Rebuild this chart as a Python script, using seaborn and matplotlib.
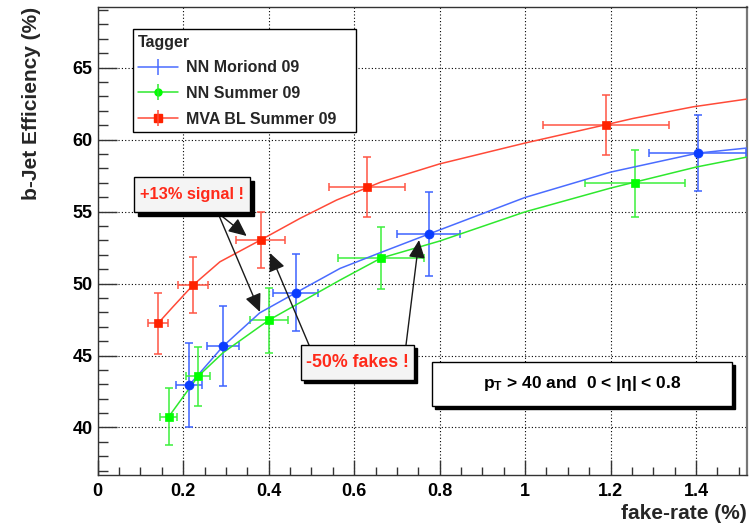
import numpy as np
import pandas as pd
import matplotlib
matplotlib.use("Agg")
import matplotlib.pyplot as plt
import seaborn as sns
from matplotlib.lines import Line2D
from matplotlib.patches import Rectangle
from matplotlib.legend_handler import HandlerTuple
from matplotlib.ticker import MultipleLocator

# ---------------- data ----------------
taggers = ["NN Moriond 09", "NN Summer 09", "MVA BL Summer 09"]

moriond_x = [0.214, 0.2935, 0.463, 0.774, 1.404]
moriond_y = [42.94, 45.65, 49.35, 53.43, 59.06]
moriond_xerr = [0.030, 0.037, 0.052, 0.073, 0.113]
moriond_yerr = [2.90, 2.78, 2.67, 2.90, 2.66]

summer_x = [0.166, 0.235, 0.4005, 0.663, 1.257]
summer_y = [40.74, 43.56, 47.46, 51.77, 56.98]
summer_xerr = [0.020, 0.028, 0.044, 0.100, 0.117]
summer_yerr = [1.98, 2.06, 2.26, 2.15, 2.33]

mva_x = [0.141, 0.223, 0.381, 0.630, 1.190]
mva_y = [47.23, 49.89, 53.02, 56.70, 61.04]
mva_xerr = [0.024, 0.035, 0.057, 0.088, 0.147]
mva_yerr = [2.10, 1.95, 1.97, 2.10, 2.08]

# fitted curves
moriond_fit_x = [0.214, 0.2935, 0.379, 0.463, 0.567, 0.660, 0.774, 1.0, 1.2, 1.404, 1.518]
moriond_fit_y = [42.94, 45.65, 47.96, 49.35, 51.05, 52.13, 53.43, 55.98, 57.74, 59.06, 59.41]

summer_fit_x = [0.166, 0.235, 0.2935, 0.4005, 0.567, 0.663, 0.8, 1.0, 1.2, 1.4, 1.518]
summer_fit_y = [40.74, 43.56, 45.20, 47.46, 50.24, 51.77, 52.95, 54.98, 56.63, 58.09, 58.78]

mva_fit_x = [0.141, 0.176, 0.223, 0.286, 0.381, 0.473, 0.559, 0.663, 0.8, 1.0, 1.19, 1.253, 1.394, 1.518]
mva_fit_y = [47.23, 48.38, 49.89, 51.51, 53.02, 54.52, 55.80, 57.05, 58.31, 59.76, 61.04, 61.47, 62.28, 62.81]

x_ticks = [0, 0.2, 0.4, 0.6, 0.8, 1.0, 1.2, 1.4]
x_tick_labels = ["0", "0.2", "0.4", "0.6", "0.8", "1", "1.2", "1.4"]
y_ticks = [40, 45, 50, 55, 60, 65]
y_tick_labels = ["40", "45", "50", "55", "60", "65"]

x_label = "fake-rate (%)"
y_label = "b-Jet Efficiency (%)"
legend_title = "Tagger"
note_signal = "+13% signal !"
note_fakes = "-50% fakes !"
note_cut = "p$_{T}$ > 40 and  0 < |η| < 0.8"

# ---------------- style ----------------
sns.set_theme(style="white")
plt.rcParams["font.family"] = ["Liberation Sans", "DejaVu Sans"]
plt.rcParams["mathtext.fontset"] = "custom"
plt.rcParams["mathtext.rm"] = "Liberation Sans"
plt.rcParams["mathtext.bf"] = "Liberation Sans:bold"
plt.rcParams["mathtext.default"] = "bf"

W, H = 756, 525
fig = plt.figure(figsize=(W / 100, H / 100), dpi=100)
fig.patch.set_facecolor("white")
ax_l, ax_r, ax_t, ax_b = 97.7, 746.7, 6.7, 475.0
ax = fig.add_axes([ax_l / W, 1 - ax_b / H, (ax_r - ax_l) / W, (ax_b - ax_t) / H])
ax.set_facecolor("white")


def fx(px):
    return px / W


def fy(py):
    return 1 - py / H


blue_m, blue_l, blue_e = "#0a3cff", "#4a6cff", "#3d63ff"
green_m, green_l, green_e = "#00ff00", "#2ee82e", "#3cf03c"
red_m, red_l, red_e = "#ff2200", "#ff4a38", "#ff5544"

series = [
    (moriond_x, moriond_y, moriond_xerr, moriond_yerr, moriond_fit_x, moriond_fit_y,
     blue_m, blue_l, blue_e, "o", 6.5),
    (summer_x, summer_y, summer_xerr, summer_yerr, summer_fit_x, summer_fit_y,
     green_m, green_l, green_e, "s", 6.0),
    (mva_x, mva_y, mva_xerr, mva_yerr, mva_fit_x, mva_fit_y,
     red_m, red_l, red_e, "s", 6.0),
]

for (sx, sy, sxe, sye, fxs, fys, cm, cl, ce, mk, ms) in series:
    ax.errorbar(sx, sy, xerr=sxe, yerr=sye, fmt="none", ecolor=ce,
                elinewidth=1.1, capsize=3, capthick=1.1, zorder=3)
    sns.lineplot(x=fxs, y=fys, ax=ax, color=cl, lw=1.1, sort=False,
                 estimator=None, zorder=4)
    sns.scatterplot(x=sx, y=sy, ax=ax, marker=mk, s=ms ** 2,
                    color=cm, edgecolor=cm, linewidth=0.5, zorder=5)

ax.set_xlim(0, 1.5185)
ax.set_ylim(36.7, 69.23)
ax.set_xticks(x_ticks, x_tick_labels)
ax.set_yticks(y_ticks, y_tick_labels)
ax.xaxis.set_minor_locator(MultipleLocator(0.05))
ax.yaxis.set_minor_locator(MultipleLocator(1))
ax.grid(True, which="major", color="black", linestyle=(0, (1, 2)), lw=0.8)
ax.set_axisbelow(True)

ax.tick_params(axis="both", which="both", direction="in", bottom=True, left=True,
               top=False, right=False, color="#333333", width=1)
ax.tick_params(axis="y", which="major", length=13.5, pad=3.5)
ax.tick_params(axis="y", which="minor", length=7.5)
ax.tick_params(axis="x", which="major", length=11, pad=6)
ax.tick_params(axis="x", which="minor", length=5.5)
for lab in ax.get_xticklabels() + ax.get_yticklabels():
    lab.set_fontweight("bold")
    lab.set_fontsize(13)
    lab.set_color("black")

for side in ["left", "bottom", "top"]:
    ax.spines[side].set_color("#333333")
    ax.spines[side].set_linewidth(1)
ax.spines["right"].set_color("#777777")
ax.spines["right"].set_linewidth(1.6)

ax.set_xlabel(x_label, fontsize=15, fontweight="bold", loc="right")
ax.xaxis.set_label_coords(1.0, -(504 - ax_b) / (ax_b - ax_t))
ax.set_ylabel(y_label, fontsize=15, fontweight="bold", loc="top")
ax.yaxis.set_label_coords((41 - ax_l) / (ax_r - ax_l), 1.0)

# ---------------- legend ----------------
handles = []
for cl, cm, mk, ms in [(blue_l, blue_m, "None", 0), (green_l, green_m, "o", 5),
                       (red_l, red_m, "s", 6)]:
    ln = Line2D([], [], color=cl, lw=1.1, marker=mk, ms=ms, mfc=cm, mec=cm)
    bar = Line2D([], [], color=cl, lw=0, marker="|", ms=12, mew=1.1, mec=cl)
    handles.append((ln, bar))

leg_l = (132.7 - ax_l) / (ax_r - ax_l)
leg_r = (356.0 - ax_l) / (ax_r - ax_l)
leg_t = 1 - (29.3 - ax_t) / (ax_b - ax_t)
leg = ax.legend(handles, taggers, handler_map={tuple: HandlerTuple(ndivide=1)},
                loc="upper left", bbox_to_anchor=(leg_l, leg_t, leg_r - leg_l, 0),
                mode="expand", borderaxespad=0, fancybox=False, framealpha=1,
                edgecolor="black", title=legend_title, alignment="left",
                prop={"weight": "bold", "size": 11.5},
                title_fontproperties={"weight": "bold", "size": 11.5},
                handlelength=2.5, handletextpad=0.5, labelspacing=0.66,
                borderpad=0.35)
leg.get_frame().set_linewidth(1)
leg.set_zorder(10)


# ---------------- annotation boxes ----------------
def pave(x0, y0, x1, y1, face, text, color, size, shadow=3):
    fig.add_artist(Rectangle((fx(x0 + shadow), fy(y1 + shadow)), (x1 - x0) / W,
                             (y1 - y0) / H, transform=fig.transFigure,
                             facecolor="black", edgecolor="black", lw=1, zorder=6))
    fig.add_artist(Rectangle((fx(x0), fy(y1)), (x1 - x0) / W, (y1 - y0) / H,
                             transform=fig.transFigure, facecolor=face,
                             edgecolor="black", lw=1, zorder=7))
    fig.text(fx((x0 + x1) / 2), fy((y0 + y1) / 2), text, ha="center", va="center",
             color=color, fontsize=size, fontweight="bold", zorder=8)


def arrow(x0, y0, x1, y1):
    ax.annotate("", xy=(x1, H - y1), xycoords="figure pixels",
                xytext=(x0, H - y0), textcoords="figure pixels",
                arrowprops=dict(arrowstyle="-|>,head_length=0.55,head_width=0.25",
                                mutation_scale=20, color="#1a1a1a", lw=1,
                                shrinkA=0, shrinkB=0),
                annotation_clip=False, zorder=5)


arrow(216.7, 212, 246.7, 236)
arrow(217.5, 212, 260, 312)
arrow(309, 345, 270, 253)
arrow(406, 345, 419, 240)

pave(134, 177.3, 250, 211.7, "#f4f4f4", note_signal, "#ff2a1a", 11.8, shadow=4)
pave(300.7, 345, 414, 380, "#f4f4f4", note_fakes, "#ff2a1a", 12.8, shadow=3)
pave(432.3, 361.7, 732.3, 406, "white", note_cut, "black", 12.5, shadow=3)

fig.savefig("out.png", dpi=100, facecolor="white")
